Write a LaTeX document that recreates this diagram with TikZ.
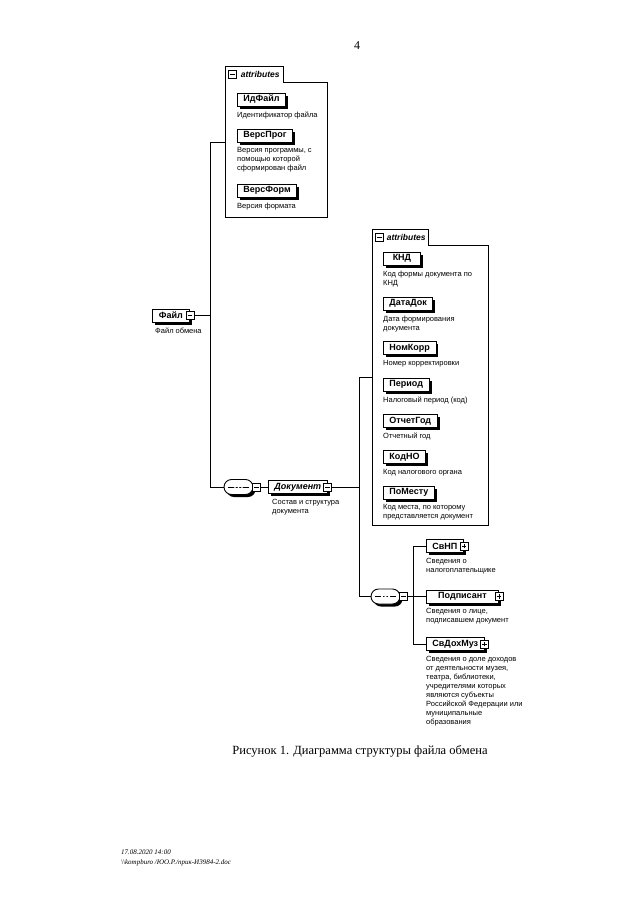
\documentclass[tikz,border=0pt]{standalone}
\usepackage{fontspec}
\setmainfont{Liberation Serif}
\setsansfont{Liberation Sans}
\usetikzlibrary{positioning,calc,shapes.misc,shadows}

\tikzset{
  conn/.style={line width=1pt},
  elem/.style={draw, line width=0.9pt, fill=white, anchor=west,
    minimum width=37pt, minimum height=13pt, inner xsep=6pt, inner ysep=0pt,
    font=\sffamily\bfseries\fontsize{9}{10}\selectfont,
    drop shadow={shadow xshift=2.5pt, shadow yshift=-2.5pt, fill=black, opacity=1}},
  desc/.style={inner sep=0pt, align=left, font=\sffamily\fontsize{7.5}{9}\selectfont},
  sign/.style={draw, line width=0.8pt, fill=white, minimum size=8pt, inner sep=0pt},
  signminus/.style={sign, path picture={
    \draw ([xshift=1.6pt]path picture bounding box.west) -- ([xshift=-1.6pt]path picture bounding box.east);}},
  signplus/.style={sign, path picture={
    \draw ([xshift=1.6pt]path picture bounding box.west) -- ([xshift=-1.6pt]path picture bounding box.east);
    \draw ([yshift=1.6pt]path picture bounding box.south) -- ([yshift=-1.6pt]path picture bounding box.north);}},
  tabbox/.style={anchor=south west, minimum height=15pt, inner sep=0pt,
    font=\sffamily\bfseries\itshape\fontsize{8.5}{10}\selectfont},
  attrbox/.style={anchor=north west, inner sep=0pt},
  seqbox/.style={rounded rectangle, draw, line width=0.9pt, fill=white,
    minimum width=29pt, minimum height=15pt, inner sep=0pt,
    drop shadow={shadow xshift=2.5pt, shadow yshift=-2.5pt, fill=black, opacity=1},
    path picture={
      \draw[line width=0.8pt] ([xshift=4pt]path picture bounding box.west) -- ([xshift=-4pt]path picture bounding box.east);
      \foreach \d in {-3.5,0,3.5}
        \fill ([xshift=\d pt]path picture bounding box.center) circle (1.2pt);}}
}

\begin{document}
\begin{tikzpicture}[x=1pt,y=-1pt]
  \useasboundingbox (0,0) rectangle (640,905);

  \node[font=\fontsize{12}{14}\selectfont] (pagenum) at (357,46) {4};

  % attributes of Файл
  \node[tabbox, minimum width=58pt] (tabFile) at (225,82) {\hspace*{12pt}attributes};
  \node[attrbox, minimum width=102pt, minimum height=135pt] (attrFile) at (225,82) {};
  \node[signminus, right=3pt of tabFile.west] (tabFileSign) {};
  \draw[conn] (tabFile.south east) -- (attrFile.north east) -- (attrFile.south east)
    -- (attrFile.south west) -- (tabFile.north west) -- (tabFile.north east) -- cycle;

  \node[elem] (idFile) at (237,99.5) {ИдФайл};
  \node[desc, below right=5pt and 0pt of idFile.south west] (idFileDesc) {Идентификатор файла};
  \node[elem] (versProg) at (237,135.5) {ВерсПрог};
  \node[desc, below right=5pt and 0pt of versProg.south west] (versProgDesc)
    {Версия программы, с\\помощью которой\\сформирован файл};
  \node[elem] (versForm) at (237,190.5) {ВерсФорм};
  \node[desc, below right=5pt and 0pt of versForm.south west] (versFormDesc) {Версия формата};

  % root element
  \node[elem] (file) at (152,315.5) {Файл\hspace{5pt}};
  \node[signminus] (fileSign) at (file.east) {};
  \node[desc, below right=5pt and 3pt of file.south west] (fileDesc) {Файл обмена};
  \coordinate[right=16pt of fileSign.east] (jFile);

  \node[seqbox] (seqDoc) at (238.5,487) {};
  \node[signminus, right=-1pt of seqDoc.east] (seqDocSign) {};

  \node[elem] (doc) at (268,487) {\textit{Документ}\hspace{6pt}};
  \node[signminus] (docSign) at (doc.east) {};
  \node[desc, below right=5pt and 4pt of doc.south west] (docDesc) {Состав и структура\\документа};
  \coordinate[right=27pt of docSign.east] (jDoc);

  \coordinate (attrFileIn) at ($(tabFile.north west)!0.5!(attrFile.south west)$);
  \draw[conn] (fileSign.east) -- (jFile);
  \draw[conn] (attrFileIn) -| (jFile) |- (seqDoc.west);
  \draw[conn] (seqDocSign.east) -- (doc.west);

  % attributes of Документ
  \node[tabbox, minimum width=56pt] (tabDoc) at (372,245) {\hspace*{12pt}attributes};
  \node[attrbox, minimum width=116pt, minimum height=280pt] (attrDoc) at (372,245) {};
  \node[signminus, right=3pt of tabDoc.west] (tabDocSign) {};
  \draw[conn] (tabDoc.south east) -- (attrDoc.north east) -- (attrDoc.south east)
    -- (attrDoc.south west) -- (tabDoc.north west) -- (tabDoc.north east) -- cycle;

  \node[elem] (knd) at (383,258.5) {КНД};
  \node[desc, below right=5pt and 0pt of knd.south west] (kndDesc) {Код формы документа по\\КНД};
  \node[elem] (dataDok) at (383,303.5) {ДатаДок};
  \node[desc, below right=5pt and 0pt of dataDok.south west] (dataDokDesc) {Дата формирования\\документа};
  \node[elem] (nomKorr) at (383,348) {НомКорр};
  \node[desc, below right=5pt and 0pt of nomKorr.south west] (nomKorrDesc) {Номер корректировки};
  \node[elem] (period) at (383,384.5) {Период};
  \node[desc, below right=5pt and 0pt of period.south west] (periodDesc) {Налоговый период (код)};
  \node[elem] (otchGod) at (383,421) {ОтчетГод};
  \node[desc, below right=5pt and 0pt of otchGod.south west] (otchGodDesc) {Отчетный год};
  \node[elem] (kodNO) at (383,457) {КодНО};
  \node[desc, below right=5pt and 0pt of kodNO.south west] (kodNODesc) {Код налогового органа};
  \node[elem] (poMestu) at (383,492.5) {ПоМесту};
  \node[desc, below right=5pt and 0pt of poMestu.south west] (poMestuDesc)
    {Код места, по которому\\представляется документ};

  \coordinate (attrDocIn) at ($(tabDoc.north west)!0.5!(attrDoc.south west)$);

  % children of Документ
  \node[seqbox] (seqSub) at (385.5,596.5) {};
  \node[signminus, right=-1pt of seqSub.east] (seqSubSign) {};
  \coordinate[right=5pt of seqSubSign.east] (jSub);

  \node[elem] (svNP) at (426,546) {СвНП\hspace{8pt}};
  \node[signplus] (svNPSign) at (svNP.east) {};
  \node[desc, below right=5pt and 0pt of svNP.south west] (svNPDesc) {Сведения о\\налогоплательщике};
  \node[elem, minimum width=72pt] (podp) at (426,596.5) {Подписант\hspace{6pt}};
  \node[signplus] (podpSign) at (podp.east) {};
  \node[desc, below right=5pt and 0pt of podp.south west] (podpDesc) {Сведения о лице,\\подписавшем документ};
  \node[elem] (svDoh) at (426,644) {СвДохМуз\hspace{8pt}};
  \node[signplus] (svDohSign) at (svDoh.east) {};
  \node[desc, below right=5pt and 0pt of svDoh.south west] (svDohDesc)
    {Сведения о доле доходов\\от деятельности музея,\\театра, библиотеки,\\учредителями которых\\являются субъекты\\Российской Федерации или\\муниципальные\\образования};

  \draw[conn] (docSign.east) -- (jDoc);
  \draw[conn] (attrDocIn) -| (jDoc) |- (seqSub.west);
  \draw[conn] (seqSubSign.east) -- (podp.west);
  \draw[conn] (svNP.west) -| (jSub) |- (svDoh.west);

  \node[font=\fontsize{12.5}{15}\selectfont] (caption) at (360,751)
    {Рисунок 1. Диаграмма структуры файла обмена};
  \node[anchor=west, inner sep=0pt, align=left, font=\itshape\fontsize{7}{10}\selectfont] (footer) at (121,858)
    {17.08.2020 14:00\\\textbackslash\textbackslash kompburo /ЮО.Р./прик-И3984-2.doc};
\end{tikzpicture}
\end{document}
